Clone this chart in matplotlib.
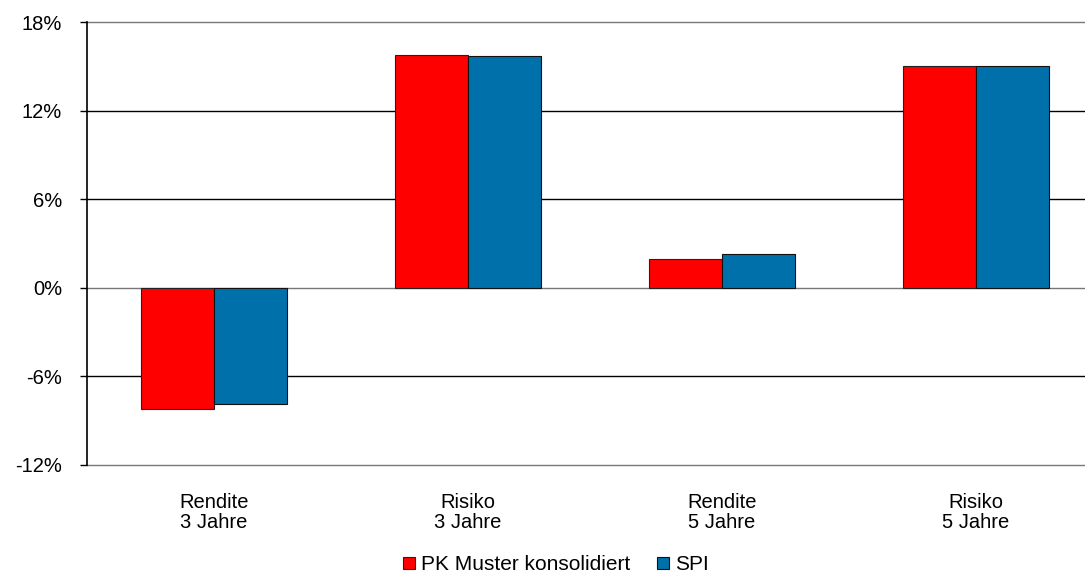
import numpy as np
import matplotlib.pyplot as plt

plt.rcParams['font.family'] = ['Liberation Sans', 'DejaVu Sans']

# Daten
kategorien = ['Rendite\n3 Jahre', 'Risiko\n3 Jahre', 'Rendite\n5 Jahre', 'Risiko\n5 Jahre']
pk_muster = [-8.2, 15.75, 1.95, 15.05]
spi = [-7.9, 15.7, 2.27, 15.0]
serien = ['PK Muster konsolidiert', 'SPI']
y_ticks = [-12, -6, 0, 6, 12, 18]

fig = plt.figure(figsize=(10.85, 5.74), dpi=100)
# Achse reicht rechts ueber den Bildrand hinaus (wie im Original abgeschnitten)
ax = fig.add_axes([87/1085, 1 - 465/574, 1016/1085, 443/574])

x = np.arange(len(kategorien))
w = 73/254
ax.bar(x - w/2, pk_muster, width=w, color='#ff0000', edgecolor='#222222', linewidth=0.8,
       label=serien[0], zorder=3)
ax.bar(x + w/2, spi, width=w, color='#0070ab', edgecolor='#111111', linewidth=0.8,
       label=serien[1], zorder=3)

ax.set_xlim(-0.5, 3.5)
ax.set_ylim(-12, 18)
ax.set_yticks(y_ticks)
ax.set_yticklabels([f'{t}%' for t in y_ticks], fontsize=14.5)
ax.set_xticks(x)
ax.set_xticklabels(kategorien, fontsize=14.5, linespacing=1.05)
ax.tick_params(axis='x', length=0, pad=20)
ax.tick_params(axis='y', length=5, width=1, pad=13)

for t in y_ticks:
    ax.axhline(t, color='#777777' if t in (-12, 0, 18) else '#000000', linewidth=1.0,
               zorder=1, clip_on=False)

for s in ['top', 'right', 'bottom']:
    ax.spines[s].set_visible(False)
ax.spines['left'].set_linewidth(1.2)
ax.spines['left'].set_zorder(4)

fig.legend(loc='center', bbox_to_anchor=(556/1085, 1 - 565/574), ncol=2, frameon=False,
           fontsize=15, handlelength=0.55, handleheight=0.55, handletextpad=0.3,
           columnspacing=1.3)

fig.savefig('out.png', dpi=100)
